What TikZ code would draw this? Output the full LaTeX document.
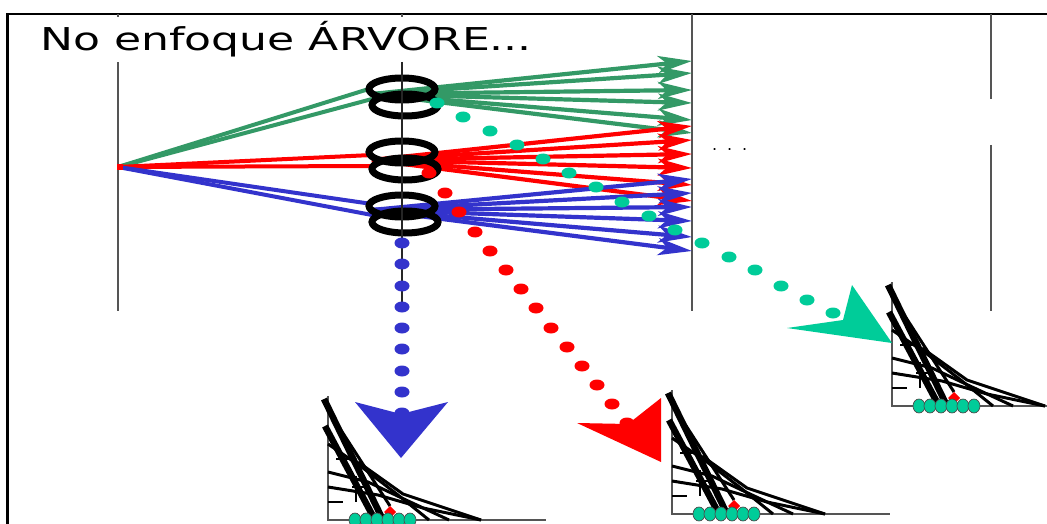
\documentclass[tikz,border=0pt]{standalone}
\usepackage{fontspec}
\setmainfont{DejaVu Sans}
\newfontfamily\titlefont[FakeStretch=1.4]{DejaVu Sans}
\newfontfamily\dotsfont[LetterSpace=62]{DejaVu Sans}
\usetikzlibrary{arrows.meta,shapes.geometric}
\definecolor{cgreen}{HTML}{339966}
\definecolor{cred}{HTML}{FF0000}
\definecolor{cblue}{HTML}{3333CC}
\definecolor{cteal}{HTML}{00CC99}
\definecolor{caxis}{HTML}{555555}
\tikzset{
  frameline/.style={line width=2.5pt, black},
  axisline/.style={line width=1.5pt, caxis},
  rootline/.style={line width=4pt},
  fanline/.style={line width=4.2pt, -{Stealth[length=34pt,width=17pt,inset=9pt]}},
  ring/.style={draw=black, line width=7pt, ellipse, minimum width=66pt, minimum height=22pt, inner sep=0pt},
  thickblk/.style={line width=6.5pt, black},
  thinblk/.style={line width=3pt, black},
  tickblk/.style={line width=2.4pt, black},
  chartaxis/.style={line width=1.3pt, caxis},
  ballstyle/.style={fill=cteal, draw=black!70, line width=0.7pt},
  chart/.pic={
    \draw[chartaxis] (0,-124) -- (0,0) -- (218,0);
    \draw[thinblk] (0,-76) -- (35,-52) -- (70,-25) -- (101,0);
    \draw[thinblk] (0,-48) -- (40,-38) -- (78,-20) -- (121,0);
    \draw[thinblk] (0,-33) -- (50,-25) -- (95,-12) -- (153,0);
    \draw[thinblk] (30,-58) -- (75,-26) -- (153,0);
    \draw[thickblk] (-4,-121) -- (55,0);
    \draw[thickblk] (-3,-94) -- (47,0);
    \draw[thinblk] (0,-110) -- (40,-48) -- (62,-14);
    \draw[tickblk] (0,-18) -- (15,-18);
    \draw[tickblk] (8,-61) -- (22,-61);
    \draw[tickblk] (28,-44) -- (28,-18);
    \draw[tickblk] (24,-33) -- (36,-33);
    \fill[cred] (62,-14) -- (68,-8) -- (62,-2) -- (56,-8) -- cycle;
    \foreach \cx in {27,38,49,60,71,82} \draw[ballstyle] (\cx,0) ellipse [x radius=6, y radius=7];
  }
}
\begin{document}
\begin{tikzpicture}[x=1pt,y=-1pt]
\useasboundingbox (0,0) rectangle (1047,524);
\clip (0,0) rectangle (1047,524);
\fill[white] (0,0) rectangle (1047,524);
% frame
\draw[frameline] (7.5,524) -- (7.5,14) -- (1047,14);
% axes
\draw[axisline] (118,14) -- (118,311);
\draw[axisline] (692,14) -- (692,311);
\draw[axisline] (991,14) -- (991,99);
\draw[axisline] (991,145) -- (991,311);
\draw[axisline] (402,14) -- (402,62);
% title box
\fill[white] (30,17) rectangle (545,62);
\node[anchor=base west, inner sep=0pt, font=\titlefont\fontsize{31.5}{36}\selectfont] (title) at (40,51) {No enfoque ÁRVORE...};
\node[anchor=base west, inner sep=0pt, font=\dotsfont\fontsize{16}{18}\selectfont] (ell) at (712,151) {...};
% coordinates
\coordinate (root) at (118,167);
\coordinate (gs) at (372,94);
\coordinate (rs) at (372,160);
\coordinate (bs) at (372,210);
\coordinate (gin1) at (372,88); \coordinate (gin2) at (372,99);
\coordinate (rin1) at (372,155); \coordinate (rin2) at (372,166);
\coordinate (bin1) at (372,204); \coordinate (bin2) at (372,215);
\foreach \i/\yy in {1/61,2/73,3/90,4/103,5/120,6/133} \coordinate (g\i) at (692,\yy);
\foreach \i/\yy in {1/126,2/140,3/154,4/168,5/185,6/201} \coordinate (r\i) at (692,\yy);
\foreach \i/\yy in {1/179,2/193,3/207,4/221,5/237,6/251} \coordinate (b\i) at (692,\yy);
% root lines
\draw[rootline, cgreen] (root) -- (gin1);
\draw[rootline, cgreen] (root) -- (gin2);
\draw[rootline, cred] (root) -- (rin1);
\draw[rootline, cred] (root) -- (rin2);
\draw[rootline, cblue] (root) -- (bin1);
\draw[rootline, cblue] (root) -- (bin2);
\fill[cred] (117,164) rectangle (123,170);
% fans
\foreach \i in {1,...,6} \draw[fanline, cgreen] (gs) -- (g\i);
\foreach \i in {1,...,6} \draw[fanline, cred] (rs) -- (r\i);
\foreach \i in {1,...,6} \draw[fanline, cblue] (bs) -- (b\i);
% rings
\node[ring] (ringGa) at (402,89) {};
\node[ring] (ringGb) at (405,105) {};
\node[ring] (ringRa) at (402,152) {};
\node[ring] (ringRb) at (405,169) {};
\node[ring] (ringBa) at (402,206) {};
\node[ring] (ringBb) at (405,222) {};
\draw[line width=1.5pt, black!85] (402,62) -- (402,311);
% charts
\pic at (328,520) {chart};
\pic at (672,514) {chart};
\pic at (892,406) {chart};
% blue dotted path
\foreach \p in {(402,243),(402,264),(402,286),(402,307),(402,328),(402,349),(402,371),(402,392),(402,413)}
  \fill[cblue] \p ellipse [x radius=7.5, y radius=5.5];
\fill[cblue] (355,402) -- (401,414) -- (448,402) -- (401,458) -- cycle;
% red dotted path
\foreach \p in {(429,173),(445,193),(459,212),(475,232),(490,251),(506,270),(521,289),(536,308),(551,328),(567,347),(582,366),(597,385),(612,404),(627,423)}
  \fill[cred] \p ellipse [x radius=7.5, y radius=5.5];
\fill[cred] (577,423) -- (628,424) -- (661,398) -- (661,462) -- cycle;
% teal dotted path
\foreach \p in {(437,103),(463,117),(490,131),(517,145),(543,159),(569,173),(596,187),(622,202),(649,216),(675,230),(702,243),(729,257),(755,270),(781,286),(807,300),(833,313)}
  \fill[cteal] \p ellipse [x radius=7.5, y radius=5.5];
\fill[cteal] (787,328) -- (843,320) -- (852,285) -- (892,343) -- cycle;
\end{tikzpicture}
\end{document}
